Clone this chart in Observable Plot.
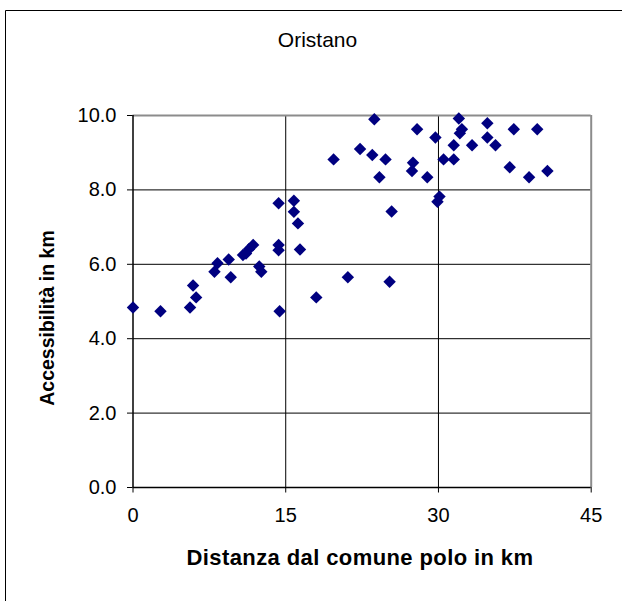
<!DOCTYPE html>
<html>
<head>
<meta charset="utf-8">
<script src="https://cdn.jsdelivr.net/npm/d3@7"></script>
<script src="https://cdn.jsdelivr.net/npm/@observablehq/plot@0.6"></script>
<style>
  html, body { margin: 0; padding: 0; background: #fff; overflow: hidden; }
  #chart svg { display: block; }
</style>
</head>
<body>
<div id="chart"></div>
<script>
// Data
const distanza = [0, 2.7, 5.6, 5.9, 6.2, 8.0, 8.3, 9.4, 9.6, 10.8, 11.1, 11.4, 11.8, 12.4, 12.6,
  14.3, 14.3, 14.3, 14.4, 15.8, 15.8, 16.2, 16.4, 18.0, 19.7, 21.1, 22.3, 23.7, 23.5, 24.8,
  24.2, 25.4, 25.2, 27.9, 27.5, 27.4, 28.9, 29.7, 30.1, 29.9, 30.5, 31.5, 31.5, 32.0, 32.3,
  32.1, 33.3, 34.8, 34.8, 35.6, 37.0, 37.4, 39.7, 38.9, 40.7];
const accessibilita = [4.84, 4.74, 4.84, 5.43, 5.11, 5.80, 6.03, 6.13, 5.65, 6.25, 6.29, 6.41, 6.52, 5.94, 5.80,
  7.64, 6.52, 6.38, 4.74, 7.71, 7.41, 7.10, 6.40, 5.11, 8.82, 5.65, 9.10, 9.90, 8.94, 8.82,
  8.34, 7.42, 5.53, 9.63, 8.73, 8.51, 8.34, 9.41, 7.82, 7.68, 8.82, 8.82, 9.20, 9.92, 9.63,
  9.52, 9.20, 9.79, 9.41, 9.20, 8.61, 9.63, 9.63, 8.34, 8.51];
const xTicks = [0, 15, 30, 45];
const yTicks = [0, 2, 4, 6, 8, 10];
const titolo = "Oristano";
const xTitolo = "Distanza dal comune polo in km";
const yTitolo = "Accessibilità in km";

const points = distanza.map((d, i) => ({x: d, y: accessibilita[i]}));

const W = 622, H = 601;
const mL = 132.5, mR = 31.3, mT = 115, mB = 114;

const chart = Plot.plot({
  width: W,
  height: H,
  marginLeft: mL,
  marginRight: mR,
  marginTop: mT,
  marginBottom: mB,
  style: {fontFamily: "'Liberation Sans', Arial, sans-serif", fontSize: "20px", color: "#000", background: "#fff"},
  x: {domain: [0, 45]},
  y: {domain: [0, 10]},
  marks: [
    Plot.gridY(yTicks.filter(d => d > 0 && d < 10), {stroke: "#000", strokeOpacity: 1, strokeWidth: 1}),
    Plot.gridX(xTicks.filter(d => d > 0 && d < 45), {stroke: "#000", strokeOpacity: 1, strokeWidth: 1}),
    Plot.ruleY([10], {stroke: "#8c8c8c", strokeWidth: 2}),
    Plot.ruleX([45], {stroke: "#8c8c8c", strokeWidth: 2}),
    Plot.ruleY([0], {stroke: "#000", strokeWidth: 1.5}),
    Plot.ruleX([0], {stroke: "#000", strokeWidth: 1.5}),
    Plot.axisY(yTicks, {tickSize: 5.5, tickPadding: 11, tickFormat: d => d.toFixed(1), label: null, fontSize: 20, stroke: "#000"}),
    Plot.axisX(xTicks, {tickSize: 5.5, tickPadding: 15, tickFormat: d => String(d), label: null, fontSize: 20, stroke: "#000"}),
    Plot.dot(points, {x: "x", y: "y", symbol: "diamond2", r: 5.6, fill: "#000080", stroke: null})
  ]
});

document.getElementById("chart").appendChild(chart);

const svg = d3.select(chart);
// outer chart-area frame (left and top visible)
svg.append("path")
  .attr("d", `M5.5,${H} V10.5 H${W}`)
  .attr("fill", "none").attr("stroke", "#000").attr("stroke-width", 1);

svg.append("text")
  .attr("x", 317.5).attr("y", 47.3)
  .attr("text-anchor", "middle")
  .style("font-family", "'Liberation Sans', Arial, sans-serif")
  .style("font-size", "21px")
  .text(titolo);

svg.append("text")
  .attr("x", 360).attr("y", 565)
  .attr("text-anchor", "middle")
  .style("font-family", "'Liberation Sans', Arial, sans-serif")
  .style("font-size", "22px").style("font-weight", "bold")
  .style("letter-spacing", "0.4px")
  .text(xTitolo);

svg.append("text")
  .attr("transform", "translate(54,318) rotate(-90)")
  .attr("text-anchor", "middle")
  .style("font-family", "'Liberation Sans', Arial, sans-serif")
  .style("font-size", "19.5px").style("font-weight", "bold")
  .text(yTitolo);
</script>
</body>
</html>
